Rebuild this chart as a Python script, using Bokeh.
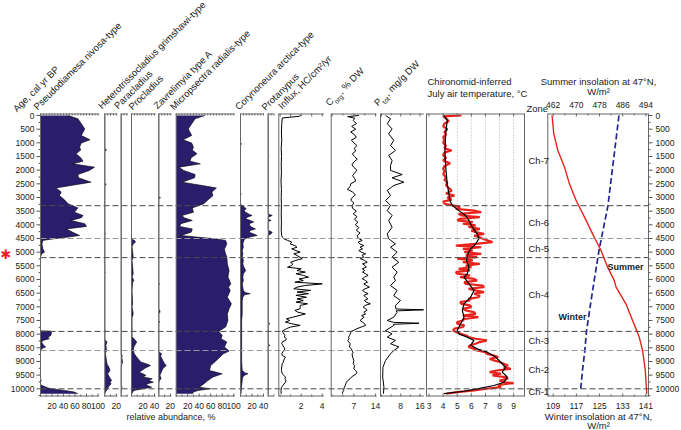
from bokeh.plotting import figure
from bokeh.models import Range1d, ColumnDataSource
from bokeh.core.properties import value
from bokeh.embed import file_html
from bokeh.resources import INLINE

# ------------------------------------------------------------------ data
PSEUDO_AGE = [0, 120, 300, 490, 610, 730, 890, 1010, 1160, 1260,
              1400, 1550, 1670, 1770, 1890, 2010, 2160, 2280, 2440, 2560,
              2650, 2800, 2930, 3090, 3230, 3380, 3540, 3660, 3740, 3840,
              3960, 4060, 4150, 4270, 4390, 4450, 4510, 4570, 4700, 4880,
              5000, 5060, 5180, 7880, 7890, 7950, 8050, 8110, 8170, 8230,
              8300, 8400, 8470, 8520, 8600, 9680, 9700, 9720, 9850, 9900,
              9960, 10000, 10060, 10120, 10180]
PSEUDO_VAL = [48, 65, 71, 77, 74, 71, 86, 71, 68, 70,
              62, 70, 74, 56, 94, 85, 65, 66, 88, 53,
              27, 36, 33, 42, 48, 65, 59, 74, 71, 53,
              77, 80, 45, 56, 68, 48, 24, 4, 2.5, 4,
              7, 2, 0, 0, 18, 19, 18, 13, 15, 4,
              2, 5, 9, 3, 0, 0, 2, 0, 0, 5,
              12, 18, 42, 59, 65]

HETERO_AGE = [0, 1200, 1260, 1320, 2480, 2520, 2560, 4300, 4330, 4360,
              5700, 5740, 5780, 7850, 7900, 7950, 8200, 8290, 8400, 8600,
              8700, 8960, 9100, 9200, 9330, 9450, 9570, 9630, 9700, 9760,
              9820, 9880, 9940, 10000, 10060, 10120, 10180]
HETERO_VAL = [0, 0, 3, 0, 0, 2.5, 0, 0, 1.5, 0,
              0, 1, 0, 0, 1.5, 0, 0, 4, 2, 3,
              1, 3, 4, 7, 9, 5, 8, 10, 12, 9,
              11, 8, 6, 5, 3, 1, 0]

PARA_AGE = [0, 8740, 8780, 8850, 8960, 9020, 9100, 9200, 9900, 9940, 9980, 10180]
PARA_VAL = [0, 0, 2, 1, 2, 2.5, 1, 0, 0, 2, 0, 0]

PROCL_AGE = [0, 4520, 4570, 4630, 4700, 4800, 5180, 5300, 5790, 5900,
             6040, 6100, 6400, 6900, 7000, 7260, 7400, 8100, 8230, 8290,
             8400, 8470, 8600, 8720, 8840, 8960, 9020, 9100, 9150, 9220,
             9270, 9330, 9390, 9450, 9510, 9570, 9630, 9700, 9760, 9820,
             9880, 9940, 10000, 10060, 10120, 10180]
PROCL_VAL = [0, 0, 5, 7, 3, 1, 3, 1, 3, 1,
             4, 2, 1, 2, 1, 3, 1, 1, 7, 9,
             6, 4, 3, 5, 9, 14, 16, 28, 33, 26,
             22, 18, 13, 20, 25, 20, 36, 30, 38, 26,
             28, 35, 20, 4, 2, 1]

ZAVR_AGE = [0, 2990, 3010, 3030, 6150, 6160, 6180, 7100, 7130, 7200,
            7250, 7500, 7560, 7600, 8650, 8720, 8800, 8960, 9080, 9150,
            9220, 9270, 9400, 9500, 9630, 9700, 9800, 10180]
ZAVR_VAL = [0, 0, 3, 0, 0, 1.5, 0, 0, 2, 2,
            0, 0, 1.5, 0, 0, 5, 3, 7, 10, 13,
            9, 7, 4, 2, 4, 1, 0, 0]

MICRO_AGE = [0, 120, 300, 490, 610, 730, 890, 1010, 1160, 1260,
             1400, 1550, 1670, 1770, 1890, 2010, 2160, 2280, 2440, 2560,
             2650, 2800, 2930, 3090, 3230, 3380, 3540, 3660, 3740, 3840,
             3960, 4060, 4150, 4270, 4390, 4450, 4510, 4570, 4700, 4880,
             5000, 5180, 5430, 5670, 5910, 6160, 6280, 6400, 6650, 6890,
             7070, 7260, 7500, 7740, 7890, 8050, 8170, 8290, 8470, 8620,
             8720, 8960, 9150, 9330, 9450, 9570, 9700, 9820, 9940, 10000,
             10060, 10120, 10180]
MICRO_VAL = [50, 33, 27, 21, 24, 27, 12, 27, 30, 28,
             36, 26, 24, 42, 5, 13, 33, 32, 10, 45,
             70, 62, 64, 55, 48, 28, 30, 10, 14, 28,
             8, 6, 28, 26, 8, 36, 68, 86, 88, 84,
             85, 88, 89, 92, 90, 95, 91, 94, 89, 96,
             92, 89, 90, 86, 74, 80, 78, 88, 84, 92,
             82, 70, 60, 58, 80, 64, 55, 48, 40, 60,
             38, 30, 28]

CORY_AGE = [0, 1000, 1040, 1080, 2850, 2870, 2900, 3250, 3290, 3410,
            3480, 3540, 3600, 3660, 3720, 3780, 3840, 3900, 3960, 4020,
            4080, 4150, 4210, 4270, 4330, 4390, 4440, 4475, 4520, 4570,
            4700, 4820, 4940, 5060, 5180, 5300, 5430, 5550, 5670, 5790,
            5910, 6040, 6160, 6280, 6400, 6480, 6520, 6560, 6650, 6800,
            7000, 7260, 7500, 7740, 7900, 8200, 8600, 9000, 9330, 9420,
            9450, 9500, 9570, 9700, 9880, 10000, 10180]
CORY_VAL = [0, 0, 2, 0, 0, 1.5, 0, 0, 3, 10,
            6, 9, 14, 20, 12, 9, 17, 23, 15, 16,
            19, 26, 17, 15, 22, 29, 18, 12, 7, 6,
            4, 5, 3, 4, 3, 5, 4, 6, 9, 5,
            4, 5, 3, 4, 5, 8, 17, 7, 4, 3,
            3, 3, 2, 2, 2, 2, 2, 2, 3, 8,
            13, 7, 4, 3, 2, 1.5, 1]

PROT_AGE = [0, 1470, 1500, 1530, 3600, 3660, 3720, 3800, 3840, 3880,
            4200, 4270, 4330, 4390, 7580, 7620, 7660, 8380, 8410, 8440, 10180]
PROT_VAL = [0, 0, 1, 0, 0, 7, 0, 0, 5, 0,
            0, 7, 5, 0, 0, 3, 0, 0, 3, 0, 0]

INFLUX_AGE = [0, 30, 90, 300, 600, 900, 1200, 1500, 1800, 2100,
              2400, 2700, 3000, 3300, 3600, 3900, 4200, 4400, 4450, 4520,
              4570, 4630, 4700, 4760, 4820, 4880, 4940, 5000, 5060, 5120,
              5240, 5300, 5370, 5430, 5490, 5550, 5610, 5670, 5730, 5790,
              5850, 5915, 5980, 6040, 6100, 6160, 6220, 6280, 6340, 6400,
              6460, 6520, 6580, 6650, 6710, 6770, 6830, 6890, 6950, 7070,
              7130, 7200, 7260, 7320, 7380, 7440, 7500, 7560, 7620, 7680,
              7740, 7800, 7890, 7950, 8050, 8110, 8170, 8230, 8290, 8350,
              8470, 8540, 8620, 8720, 8780, 8840, 8900, 9020, 9080, 9200,
              9330, 9450, 9570, 9630, 9700, 9760, 9880, 9960, 10060, 10180]
INFLUX_VAL = [1.95, 1.8, 0.2, 0.15, 0.12, 0.15, 0.1, 0.13, 0.1, 0.12,
              0.08, 0.12, 0.1, 0.12, 0.1, 0.12, 0.1, 0.15, 0.2, 0.4,
              0.7, 1.1, 0.95, 1.4, 1.6, 1.1, 1.5, 1.9, 1.3, 1.6,
              2.1, 1.5, 0.98, 1.2, 1.1, 0.7, 2.0, 1.6, 2.4, 1.5,
              2.2, 2.7, 1.8, 2.2, 1.4, 4.0, 2.4, 1.6, 1.3, 2.9,
              1.6, 2.7, 1.5, 2.5, 1.6, 2.2, 1.5, 2.6, 1.9, 1.9,
              1.4, 1.7, 2.4, 1.8, 1.2, 0.6, 0.9, 0.5, 1.1, 1.9,
              1.0, 0.6, 0.2, 0.3, 0.45, 0.4, 0.6, 0.5, 0.2, 0.15,
              0.35, 0.45, 0.3, 0.15, 0.2, 0.5, 0.4, 0.3, 0.2, 0.15,
              0.12, 0.2, 0.5, 0.45, 0.55, 0.5, 0.25, 0.12, 0.08, 0.1]

CORG_AGE = [0, 40, 100, 180, 300, 400, 500, 600, 700, 800,
            900, 1000, 1100, 1200, 1300, 1400, 1500, 1600, 1700, 1800,
            1900, 2000, 2100, 2200, 2300, 2400, 2500, 2600, 2700, 2800,
            2900, 3000, 3100, 3200, 3300, 3400, 3500, 3600, 3700, 3800,
            3900, 4000, 4100, 4200, 4300, 4400, 4500, 4570, 4630, 4700,
            4760, 4820, 4880, 4940, 5000, 5060, 5120, 5180, 5240, 5300,
            5370, 5430, 5490, 5550, 5610, 5670, 5730, 5790, 5850, 5910,
            5970, 6040, 6100, 6160, 6220, 6280, 6340, 6400, 6460, 6520,
            6580, 6650, 6710, 6770, 6830, 6890, 6950, 7010, 7070, 7130,
            7200, 7260, 7320, 7380, 7440, 7500, 7560, 7620, 7680, 7740,
            7800, 7860, 7900, 7950, 8050, 8110, 8170, 8230, 8290, 8350,
            8470, 8540, 8620, 8680, 8720, 8840, 8960, 9080, 9150, 9270,
            9330, 9400, 9450, 9570, 9630, 9700, 9760, 9820, 9880, 9960,
            10060, 10120, 10180]
CORG_VAL = [8.6, 5.0, 7.3, 6.8, 7.8, 6.3, 7.6, 6.0, 7.2, 7.8,
            6.2, 7.0, 8.0, 7.1, 7.6, 6.5, 7.2, 8.1, 7.0, 6.4,
            7.0, 8.0, 7.3, 6.6, 7.2, 7.6, 6.0, 5.8, 4.9, 6.6,
            7.5, 6.5, 6.0, 7.0, 6.4, 6.6, 7.8, 6.8, 8.0, 7.2,
            8.3, 7.5, 8.6, 7.8, 9.0, 8.0, 8.5, 9.7, 8.4, 8.9,
            10.2, 9.0, 9.8, 8.6, 9.4, 10.8, 9.6, 10.2, 9.1, 10.4,
            11.3, 9.8, 10.6, 11.0, 9.7, 10.5, 9.8, 10.8, 11.6, 10.5,
            9.7, 10.8, 11.4, 10.2, 11.0, 12.0, 10.6, 9.8, 10.5, 11.6,
            10.2, 10.8, 11.5, 10.4, 11.0, 12.3, 10.6, 10.0, 10.8, 11.2,
            10.2, 10.8, 9.5, 10.3, 9.6, 9.0, 9.8, 10.5, 10.8, 9.4,
            8.0, 7.0, 6.1, 6.0, 5.6, 5.3, 5.5, 5.0, 5.4, 5.8,
            5.6, 6.2, 6.5, 6.8, 6.4, 6.6, 7.0, 6.8, 7.2, 7.0,
            7.6, 8.0, 7.8, 6.2, 5.8, 5.0, 4.6, 4.4, 4.2, 3.9,
            3.7, 3.4, 3.3]

PTOT_AGE = [0, 120, 300, 490, 670, 910, 1100, 1280, 1460, 1650,
            1830, 2010, 2160, 2280, 2440, 2560, 2740, 2930, 3110, 3290,
            3480, 3660, 3840, 4090, 4330, 4510, 4700, 4820, 5000, 5180,
            5370, 5550, 5730, 5910, 6040, 6220, 6400, 6590, 6770, 6950,
            7080, 7110, 7150, 7200, 7380, 7500, 7570, 7600, 7640, 7680,
            7870, 7990, 8110, 8230, 8350, 8470, 8600, 8720, 8960, 9210,
            9570, 9940, 10180]
PTOT_VAL = [1.7, 3.75, 2.4, 4.4, 3.0, 5.1, 3.75, 5.8, 3.0, 4.4,
            3.75, 3.75, 8.6, 4.4, 9.3, 5.1, 2.4, 3.75, 1.7, 3.75,
            2.4, 4.4, 3.0, 4.4, 2.4, 3.0, 5.8, 3.75, 6.5, 4.4,
            7.2, 4.4, 6.5, 5.1, 5.8, 3.75, 6.5, 5.1, 7.9, 5.8,
            6.0, 17.5, 6.0, 6.5, 5.1, 2.4, 5.0, 15.6, 5.0, 5.1,
            1.7, 4.4, 2.4, 5.8, 3.75, 7.2, 5.1, 3.75, 1.7, 0.6,
            0.5, 1.0, 0.8]

TEMP_AGE = [0, 30, 100, 200, 300, 400, 500, 600, 700, 800,
            900, 1000, 1100, 1200, 1280, 1350, 1450, 1550, 1650, 1750,
            1850, 1950, 2050, 2150, 2250, 2350, 2450, 2550, 2650, 2750,
            2850, 2930, 3000, 3080, 3150, 3230, 3290, 3350, 3420, 3480,
            3540, 3600, 3660, 3720, 3780, 3840, 3900, 3960, 4020, 4080,
            4150, 4210, 4270, 4330, 4400, 4460, 4530, 4630, 4700, 4760,
            4820, 4880, 4940, 5000, 5060, 5120, 5180, 5240, 5300, 5370,
            5430, 5490, 5550, 5610, 5670, 5730, 5790, 5850, 5915, 5980,
            6040, 6100, 6160, 6220, 6280, 6340, 6400, 6460, 6520, 6590,
            6650, 6710, 6770, 6830, 6890, 6950, 7010, 7070, 7130, 7200,
            7260, 7320, 7380, 7440, 7500, 7560, 7620, 7680, 7740, 7800,
            7870, 7940, 8000, 8060, 8110, 8170, 8230, 8290, 8350, 8410,
            8470, 8540, 8600, 8660, 8720, 8780, 8840, 8900, 8960, 9020,
            9080, 9150, 9210, 9270, 9330, 9390, 9450, 9510, 9570, 9630,
            9700, 9760, 9790, 9840, 9880, 9940, 9990, 10060, 10120, 10180]
TEMP_RAW = [5.3, 4.0, 4.2, 4.4, 4.1, 4.0, 4.3, 4.1, 4.2, 4.0,
            4.1, 4.0, 4.2, 4.1, 4.6, 4.1, 4.0, 4.2, 4.0, 4.5,
            4.1, 4.0, 4.1, 4.0, 4.2, 4.1, 4.3, 4.2, 4.4, 4.6,
            4.2, 4.8, 4.3, 4.6, 4.0, 4.1, 4.7, 5.2, 4.9, 6.2,
            6.7, 5.1, 5.3, 6.6, 5.2, 5.0, 6.1, 5.4, 6.3, 5.8,
            6.6, 6.0, 6.3, 6.9, 6.2, 6.6, 6.9, 7.5, 6.3, 4.9,
            6.7, 5.4, 6.1, 5.5, 6.7, 5.6, 6.4, 5.0, 6.1, 5.4,
            6.6, 5.6, 6.0, 5.1, 5.9, 4.9, 5.0, 5.9, 5.2, 6.2,
            6.4, 5.5, 5.6, 6.8, 6.9, 5.8, 6.3, 6.9, 6.2, 6.6,
            6.5, 5.8, 5.9, 5.2, 5.3, 5.9, 6.0, 5.4, 5.6, 6.2,
            6.3, 5.4, 6.5, 5.5, 5.4, 5.0, 5.0, 5.5, 5.4, 4.8,
            4.7, 5.0, 5.3, 5.7, 5.8, 6.3, 7.1, 6.6, 6.3, 5.9,
            5.8, 6.2, 6.4, 7.0, 7.1, 7.6, 7.9, 7.3, 7.6, 8.0,
            8.3, 8.6, 8.3, 8.8, 7.8, 7.3, 8.1, 7.5, 8.4, 8.6,
            8.0, 8.4, 9.0, 8.2, 7.9, 8.1, 7.2, 6.2, 5.0, 4.2]

SMOOTH_AGE = [0, 180, 670, 1280, 1890, 2500, 2870, 3110, 3290, 3480,
              3660, 3840, 4090, 4330, 4510, 4700, 4880, 5060, 5300, 5550,
              5790, 5915, 6160, 6400, 6650, 6890, 7130, 7380, 7620, 7870,
              7990, 8110, 8230, 8410, 8540, 8660, 8840, 9020, 9210, 9390,
              9570, 9760, 9880, 10000, 10090, 10180]
SMOOTH_VAL = [4.06, 4.29, 4.18, 4.13, 4.18, 4.29, 4.41, 4.48, 4.65, 5.12,
              5.59, 5.83, 6.07, 6.42, 6.54, 6.3, 5.95, 5.76, 5.66, 5.83,
              5.71, 5.48, 5.83, 6.19, 5.95, 5.48, 5.36, 5.48, 5.24, 5.0,
              5.12, 5.71, 6.19, 5.95, 6.42, 7.13, 7.72, 8.07, 8.43, 8.19,
              8.55, 8.31, 7.6, 6.42, 5.48, 4.06]

SUMMER_AGE = [0, 670, 1280, 1890, 2500, 3110, 3720, 4330, 4940, 5550,
              6040, 6280, 6890, 7500, 7890, 8110, 8620, 9330, 10000, 10180]
SUMMER_VAL = [461.6, 462.2, 463.6, 465.9, 467.6, 469.9, 472.8, 475.6, 478.5, 480.8,
              483.1, 483.7, 487.1, 489.4, 490.9, 491.7, 492.9, 493.8, 494.2, 494.3]
WINTER_AGE = [0, 3300, 4940, 5670, 6890, 7890, 8620, 9330, 10000]
WINTER_VAL = [131.7, 127.9, 124.8, 123.7, 121.9, 120.5, 119.9, 119.1, 118.5]

ZONE_NAMES = ["Ch-7", "Ch-6", "Ch-5", "Ch-4", "Ch-3", "Ch-2", "Ch-1"]
ZONE_TOP = [0, 3300, 4500, 5200, 7900, 8600, 10000]
ZONE_BOT = [3300, 4500, 5200, 7900, 8600, 10000, 10200]
STAR_AGE = 5100

AGE_TICKS = list(range(0, 10001, 500))
AGE_MINOR = list(range(250, 10251, 500))

# ------------------------------------------------------------------ layout / style
FONT = "Liberation Sans"
NAVY = "#2a1e6c"
RED = "#e8231d"
BLUE = "#25258f"
AX = "#666666"
TXT = "#222222"

W, H = 681, 430
Y0, Y1 = 115.0, 388.3        # pixel rows of age 0 and age 10000
YT, YB = 113.0, 396.0        # plot area top / bottom rows
LX, RX = 40.0, 648.0         # left / right age axis columns


def age_at(y):
    return (y - Y0) * 10000.0 / (Y1 - Y0)


AGE_TOP, AGE_BOT = age_at(YT), age_at(YB)

PCT = 0.575
TAXA = [("pseudo", 40.0, 102, PSEUDO_AGE, PSEUDO_VAL),
        ("hetero", 104.3, 22, HETERO_AGE, HETERO_VAL),
        ("para", 120.7, 11.5, PARA_AGE, PARA_VAL),
        ("procl", 131.0, 42, PROCL_AGE, PROCL_VAL),
        ("zavr", 158.3, 22, ZAVR_AGE, ZAVR_VAL),
        ("micro", 175.7, 102, MICRO_AGE, MICRO_VAL),
        ("cory", 240.0, 41, CORY_AGE, CORY_VAL),
        ("prot", 267.7, 10, PROT_AGE, PROT_VAL)]
CURVES = {"influx": (-0.13, 4.15, 278.3, 323.3),
          "corg": (-0.3, 14.3, 330.7, 376.0),
          "ptot": (-0.42, 17.6, 380.0, 423.3),
          "temp": (2.82, 9.77, 426.0, 524.0),
          "ins_bot": (107.13, 141.9, 547.3, 648.0),
          "ins_top": (460.13, 494.9, 547.3, 648.0)}

panels, xr = {}, {}


def add_panel(key, v0, v1, a, b):
    k = (v1 - v0) / (b - a)
    xr[key] = Range1d(start=v0 - a * k, end=v1 + (W - b) * k)
    panels[key] = (v0, v1, a, b)


for key, left, mx, _, _ in TAXA:
    add_panel(key, 0.0, float(mx), left, left + mx * PCT)
for key, (v0, v1, a, b) in CURVES.items():
    add_panel(key, v0, v1, a, b)


def tpx(key, v):
    v0, v1, a, b = panels[key]
    return a + (v - v0) * (b - a) / (v1 - v0)


p = figure(width=W, height=H, output_backend="svg", toolbar_location=None,
           x_range=Range1d(0, W), y_range=Range1d(age_at(H), age_at(0)),
           x_axis_type=None, y_axis_type=None,
           min_border_left=0, min_border_right=0, min_border_top=0, min_border_bottom=0)
p.outline_line_color = None
p.background_fill_color = "white"
p.border_fill_color = "white"
p.extra_x_ranges = xr
p.extra_y_ranges = {"py": Range1d(start=H, end=0)}


def text(xs, ys, texts, size="9.5px", angle=0, align="left", baseline="middle",
         style="normal", color=TXT, font=FONT, yr="py"):
    p.text(x=xs, y=ys, text=texts, angle=angle, angle_units="deg",
           text_font=value(font), text_font_size=value(size), text_align=align,
           text_baseline=baseline, text_font_style=style, text_color=color,
           y_range_name=yr)


# temperature grid
tg = [4, 5, 6, 7, 8, 9]
p.segment(x0=tg, x1=tg, y0=[AGE_TOP] * 6, y1=[AGE_BOT] * 6, x_range_name="temp",
          line_color="#9a9a9a", line_width=0.8, line_dash="1 2")

# taxa silhouettes
for key, left, mx, ages, vals in TAXA:
    src = ColumnDataSource(dict(age=ages, val=vals, zero=[0] * len(ages)))
    p.harea(x1="zero", x2="val", y="age", source=src, x_range_name=key,
            fill_color=NAVY, fill_alpha=1.0)
    p.line(x="val", y="age", source=src, x_range_name=key,
           line_color="black", line_width=0.6)

# curves
p.line(INFLUX_VAL, INFLUX_AGE, x_range_name="influx", line_color="black", line_width=1)
p.line(CORG_VAL, CORG_AGE, x_range_name="corg", line_color="black", line_width=1)
p.line(PTOT_VAL, PTOT_AGE, x_range_name="ptot", line_color="black", line_width=1)
p.line(TEMP_RAW, TEMP_AGE, x_range_name="temp", line_color=RED, line_width=2.2)
p.line(SMOOTH_VAL, SMOOTH_AGE, x_range_name="temp", line_color="black", line_width=1.2)
p.line(SUMMER_VAL, SUMMER_AGE, x_range_name="ins_top", line_color=RED, line_width=1.4)
p.line(WINTER_VAL, WINTER_AGE, x_range_name="ins_bot", line_color=BLUE,
       line_width=1.7, line_dash="6 3")

# zone boundaries (dashed)
bnd = ZONE_TOP[1:]
cols = ["#9a9a9a" if a in (4500, 8600) else "#4a4a4a" for a in bnd]
p.segment(x0=[LX] * len(bnd), x1=[RX] * len(bnd), y0=bnd, y1=bnd,
          line_color=cols, line_width=1, line_dash="6 3")

# panel frame lines
keys = [k for k in panels if k != "ins_top"]
xa = [panels[k][2] for k in keys]
xb = [panels[k][3] for k in keys]
vx = xa + [panels["temp"][3], RX]
p.segment(x0=vx, x1=vx, y0=[AGE_TOP] * len(vx), y1=[AGE_BOT] * len(vx),
          line_color=AX, line_width=1)
p.segment(x0=xa, x1=xb, y0=[YT + 0.5] * len(xa), y1=[YT + 0.5] * len(xa),
          y_range_name="py", line_color=AX, line_width=1)
p.segment(x0=xa, x1=xb, y0=[YB - 0.5] * len(xa), y1=[YB - 0.5] * len(xa),
          y_range_name="py", line_color=AX, line_width=1)

# zone labels
mids = [(a + b) / 2 for a, b in zip(ZONE_TOP, ZONE_BOT)]
text([528] * len(ZONE_NAMES), mids, ZONE_NAMES, yr="default")

# ------------------------------------------------------------------ age axes
nA, nM = len(AGE_TICKS), len(AGE_MINOR)
p.segment(x0=[LX - 4] * nA, x1=[LX] * nA, y0=AGE_TICKS, y1=AGE_TICKS, line_color="#555555")
p.segment(x0=[LX - 2] * nM, x1=[LX] * nM, y0=AGE_MINOR, y1=AGE_MINOR, line_color="#555555")
p.segment(x0=[RX] * nA, x1=[RX + 4] * nA, y0=AGE_TICKS, y1=AGE_TICKS, line_color="#555555")
p.segment(x0=[RX] * nM, x1=[RX + 2] * nM, y0=AGE_MINOR, y1=AGE_MINOR, line_color="#555555")
labels = [str(t) for t in AGE_TICKS]
text([LX - 6] * nA, AGE_TICKS, labels, size="8.5px", align="right", yr="default")
text([RX + 7] * nA, AGE_TICKS, labels, size="8.5px", align="left", yr="default")

# ------------------------------------------------------------------ top / bottom ticks
b_major, b_lab, b_minor = [], [], []
t_major, t_minor, t_lab_x, t_lab = [], [], [], []
for key, left, mx, _, _ in TAXA:
    for t in range(0, int(mx) + 1, 10):
        if t > 0 and t % 20 == 0:
            b_major.append(tpx(key, t)); b_lab.append(str(t))
        else:
            b_minor.append(tpx(key, t))
    for t in range(0, int(mx) + 1, 5):
        t_minor.append(tpx(key, t))
for key, majors, minors in [("influx", [2, 4], [0, 1, 3]),
                            ("corg", [7, 14], [0, 3.5, 10.5]),
                            ("ptot", [8, 16], [0, 4, 12]),
                            ("temp", [3, 4, 5, 6, 7, 8, 9], []),
                            ("ins_bot", [109, 117, 125, 133, 141], [113, 121, 129, 137])]:
    for v in majors:
        b_major.append(tpx(key, v)); b_lab.append(str(v))
    for v in minors:
        b_minor.append(tpx(key, v))
for key, majors, minors in [("influx", [0, 1, 2, 3, 4], []),
                            ("corg", [0, 7, 14], [3.5, 10.5]),
                            ("ptot", [0, 8, 16], [4, 12]),
                            ("temp", [3, 4, 5, 6, 7, 8, 9], []),
                            ("ins_top", [462, 470, 478, 486, 494], [466, 474, 482, 490])]:
    for v in majors:
        t_major.append(tpx(key, v))
    for v in minors:
        t_minor.append(tpx(key, v))
for v in [462, 470, 478, 486, 494]:
    t_lab_x.append(tpx("ins_top", v)); t_lab.append(str(v))

p.segment(x0=b_major, x1=b_major, y0=[YB] * len(b_major), y1=[YB - 3] * len(b_major),
          y_range_name="py", line_color=AX)
p.segment(x0=b_minor, x1=b_minor, y0=[YB] * len(b_minor), y1=[YB - 2] * len(b_minor),
          y_range_name="py", line_color=AX)
p.segment(x0=t_major, x1=t_major, y0=[YT] * len(t_major), y1=[YT + 3] * len(t_major),
          y_range_name="py", line_color=AX)
p.segment(x0=t_minor, x1=t_minor, y0=[YT] * len(t_minor), y1=[YT + 2] * len(t_minor),
          y_range_name="py", line_color=AX)
text(b_major, [405] * len(b_major), b_lab, size="8.5px", align="center")
text(t_lab_x, [104] * len(t_lab_x), t_lab, size="8.5px", align="center")

# ------------------------------------------------------------------ header labels
HEAD = [("Age, cal yr BP", 18, 113.5),
        ("Pseudodiamesa nivosa-type", 38.5, 111.5),
        ("Heterotrissocladius grimshawi-type", 103, 110.5),
        ("Paracladius", 119, 110.5),
        ("Procladius", 133.5, 111.5),
        ("Zavrelimyia type A", 158.5, 110.5),
        ("Micropsectra radialis-type", 175, 111.5),
        ("Corynoneura arctica-type", 240, 111.5),
        ("Protanypus", 266.5, 112),
        ("Influx, HC/cm²/yr", 283, 110.5)]
HS = 9.5
text([h[1] for h in HEAD], [h[2] for h in HEAD], [h[0] for h in HEAD],
     size=f"{HS}px", angle=45, baseline="bottom")

c = s = 0.7071
for main, sub, rest, x, y, wmain, wsub in [("C", "org", ", % DW", 330.5, 107.5, 0.722, 1.445),
                                           ("P", "tot", ", mg/g DW", 379.0, 107.5, 0.667, 1.112)]:
    d1 = wmain * HS
    d2 = d1 + wsub * 6.8 + 0.5
    text([x, x + d2 * c], [y, y - d2 * s], [main, rest], size=f"{HS}px", angle=45,
         baseline="bottom")
    text([x + d1 * c + 2.6 * s], [y - d1 * s + 2.6 * c], [sub], size="6.8px", angle=45,
         baseline="bottom")

text([427, 427], [81, 92.5], ["Chironomid-inferred", "July air temperature, °C"])
text([598, 598], [81, 91], ["Summer insolation at 47°N,", "W/m²"], align="center")
text([526], [108], ["Zone"])
text([170.5], [416], ["relative abundance, %"], size="9px", align="center")
text([598, 598], [416, 425], ["Winter insolation at 47°N,", "W/m²"], align="center")
text([643], [266], ["Summer"], size="9px", align="right", style="bold")
text([558], [316.5], ["Winter"], size="9px", style="bold")
text([5.5], [STAR_AGE], ["✱"], size="13px", align="center", color=RED,
     font="DejaVu Sans", yr="default")

open("out.html", "w").write(file_html(p, INLINE))
